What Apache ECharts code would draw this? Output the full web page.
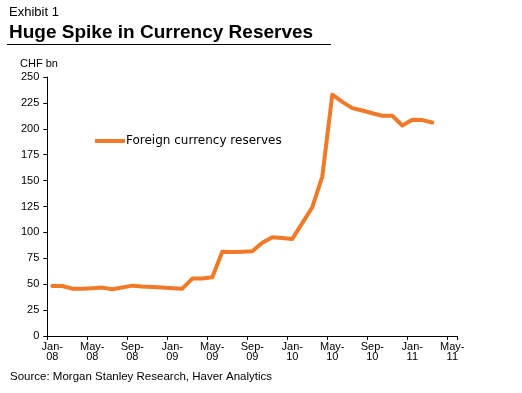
<!DOCTYPE html>
<html>
<head>
<meta charset="utf-8">
<script src="https://cdn.jsdelivr.net/npm/echarts@6/dist/echarts.min.js"></script>
<style>
html,body{margin:0;padding:0;background:#fff;}
#chart{width:522px;height:393px;}
</style>
</head>
<body>
<div id="chart"></div>
<script>
const months = ['Jan-08','Feb-08','Mar-08','Apr-08','May-08','Jun-08','Jul-08','Aug-08','Sep-08','Oct-08','Nov-08','Dec-08',
  'Jan-09','Feb-09','Mar-09','Apr-09','May-09','Jun-09','Jul-09','Aug-09','Sep-09','Oct-09','Nov-09','Dec-09',
  'Jan-10','Feb-10','Mar-10','Apr-10','May-10','Jun-10','Jul-10','Aug-10','Sep-10','Oct-10','Nov-10','Dec-10',
  'Jan-11','Feb-11','Mar-11','Apr-11','May-11'];
const reserves = [48.3, 48.3, 45.7, 45.7, 46.2, 46.7, 45.1, 46.9, 48.6, 47.8, 47.3, 46.7,
  46.1, 45.7, 55.4, 55.6, 56.7, 81.4, 81.2, 81.4, 81.8, 90.1, 95.4, 94.7,
  93.7, 109, 124.3, 153.9, 232.9, 226, 220, 217.7, 215, 212.6, 212.6, 203.2,
  208.7, 208.4, 206.1];
const seriesName = 'Foreign currency reserves';
const yTicks = {min: 0, max: 250, interval: 25};
const texts = {
  exhibit: 'Exhibit 1',
  title: 'Huge Spike in Currency Reserves',
  unit: 'CHF bn',
  source: 'Source: Morgan Stanley Research, Haver Analytics'
};

const ORANGE = '#F07A28';
const FONT = 'Arial, "Liberation Sans", sans-serif';
const chart = echarts.init(document.getElementById('chart'), null, {renderer: 'canvas'});
chart.setOption({
  backgroundColor: '#fff',
  animation: false,
  title: [
    {text: texts.exhibit, left: 9, top: 6, padding: 0,
     textStyle: {fontFamily: FONT, fontSize: 13, fontWeight: 'normal', color: '#000'}},
    {text: texts.title, left: 9, top: 23, padding: 0,
     textStyle: {fontFamily: FONT, fontSize: 19, fontWeight: 'bold', color: '#000'}},
    {text: texts.unit, left: 20, top: 58, padding: 0,
     textStyle: {fontFamily: FONT, fontSize: 11, fontWeight: 'normal', color: '#000'}},
    {text: texts.source, left: 10, top: 371, padding: 0,
     textStyle: {fontFamily: FONT, fontSize: 11.5, fontWeight: 'normal', color: '#000'}}
  ],
  graphic: [
    {type: 'line', shape: {x1: 7, y1: 44.5, x2: 331, y2: 44.5},
     style: {stroke: '#000', lineWidth: 1}}
  ],
  legend: {
    left: 95, top: 135, padding: 0,
    icon: 'rect', itemWidth: 30, itemHeight: 4,
    textStyle: {fontFamily: '"DejaVu Sans", sans-serif', fontSize: 12, color: '#000', padding: [0,0,0,-4]},
    data: [seriesName]
  },
  grid: {left: 47.3, top: 77, right: 64.7, bottom: 57, containLabel: false},
  xAxis: {
    type: 'category',
    data: months,
    boundaryGap: true,
    axisLine: {show: true, lineStyle: {color: '#000', width: 1}},
    axisTick: {show: true, interval: 3, length: 4, alignWithLabel: false, lineStyle: {color: '#000'}},
    axisLabel: {
      interval: 3, color: '#000', fontFamily: FONT, fontSize: 11, lineHeight: 10, margin: 6,
      formatter: v => v.replace('-', '-\n')
    },
    splitLine: {show: false}
  },
  yAxis: {
    type: 'value',
    min: yTicks.min, max: yTicks.max, interval: yTicks.interval,
    axisLine: {show: true, lineStyle: {color: '#000', width: 1}},
    axisTick: {show: true, length: 4, lineStyle: {color: '#000'}},
    axisLabel: {color: '#000', fontFamily: FONT, fontSize: 11, margin: 8},
    splitLine: {show: false}
  },
  series: [{
    name: seriesName,
    type: 'line',
    data: reserves,
    symbol: 'none',
    itemStyle: {color: ORANGE},
    lineStyle: {color: ORANGE, width: 4, join: 'round', cap: 'round'}
  }]
});
</script>
</body>
</html>
